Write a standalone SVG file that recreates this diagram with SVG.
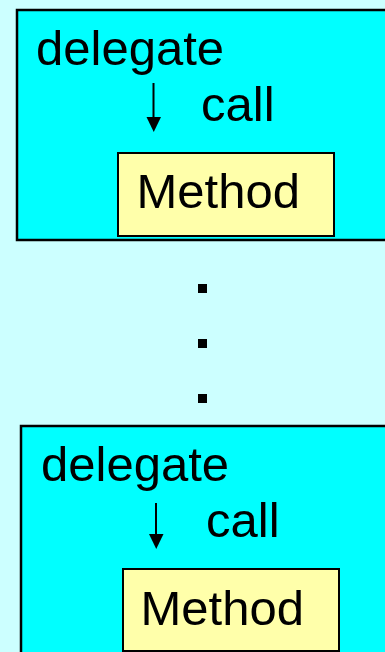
<svg xmlns="http://www.w3.org/2000/svg" width="385" height="652" viewBox="0 0 385 652">
<style>
.bg{fill:#CCFFFF}
.outer{fill:#00FFFF;stroke:#000;stroke-width:2.5}
.method{fill:#FFFFAA;stroke:#000;stroke-width:2}
.t{font-family:"Liberation Sans",Arial,sans-serif;font-size:49px;fill:#000}
.arr{stroke:#000;stroke-width:2;fill:none}
.head{fill:#000}
.dot{fill:#000}
</style>
<rect class="bg" x="0" y="0" width="385" height="652"/>
<g id="block1">
<rect class="outer" x="17" y="10" width="400" height="230"/>
<text class="t" x="36" y="65">delegate</text>
<text class="t" x="201" y="121">call</text>
</g>
<g id="method1">
<rect class="method" x="118" y="153" width="216" height="83"/>
<text class="t" x="136.5" y="208">Method</text>
</g>
<g id="ellipsis">
<rect class="dot" x="198" y="284" width="9" height="9"/>
<rect class="dot" x="198" y="339" width="9" height="9"/>
<rect class="dot" x="198" y="394" width="9" height="9"/>
</g>
<g id="block2">
<rect class="outer" x="21" y="426" width="400" height="300"/>
<text class="t" x="41" y="481">delegate</text>
<text class="t" x="206" y="537">call</text>
</g>
<g id="method2">
<rect class="method" x="123" y="569" width="216" height="82"/>
<text class="t" x="140.5" y="625">Method</text>
</g>
<g id="connectors">
<line class="arr" x1="153.5" y1="83" x2="153.5" y2="118"/>
<path class="head" d="M146.5,117 L161,117 L153.75,132 Z"/>
<line class="arr" x1="156" y1="503" x2="156" y2="535"/>
<path class="head" d="M149,534 L163.5,534 L156.25,549 Z"/>
</g>
</svg>
